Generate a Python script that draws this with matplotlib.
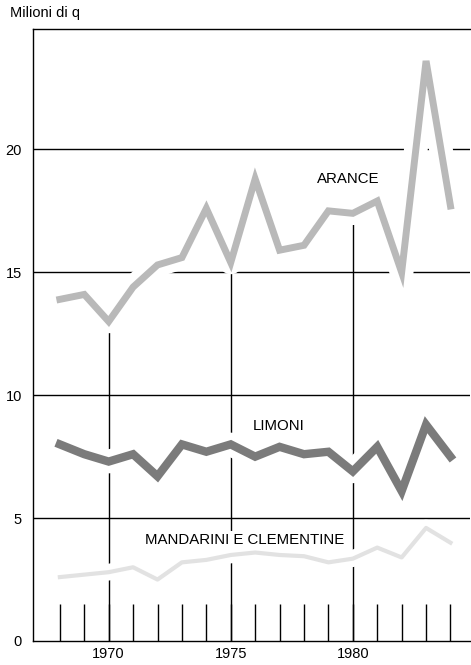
import matplotlib
matplotlib.use("Agg")
import matplotlib.pyplot as plt
import matplotlib.patheffects as pe

plt.rcParams['font.family'] = ['Liberation Sans', 'DejaVu Sans']

years = list(range(1968, 1985))
arance = [13.9, 14.1, 13.0, 14.4, 15.3, 15.6, 17.6, 15.4, 18.8, 15.9, 16.1,
          17.5, 17.4, 17.9, 15.0, 23.6, 17.7]
limoni = [8.0, 7.6, 7.3, 7.6, 6.7, 8.0, 7.7, 8.0, 7.5, 7.9, 7.6,
          7.7, 6.9, 7.9, 6.1, 8.8, 7.5]
mandarini = [2.6, 2.7, 2.8, 3.0, 2.5, 3.2, 3.3, 3.5, 3.6, 3.5, 3.45,
             3.2, 3.35, 3.8, 3.4, 4.6, 4.0]
label_years = [1970, 1975, 1980]
y_ticks = [0, 5, 10, 15, 20]

fig = plt.figure(figsize=(4.71, 6.65), dpi=100)
ax = fig.add_axes([33/471, 24/665, 437/471, 612/665])
ax.set_xlim(1966.9, 1984.8)
ax.set_ylim(0, 24.9)

# horizontal grid lines
for v in y_ticks[1:]:
    ax.axhline(v, color='black', lw=1.0, zorder=1)

# vertical lines at labelled years, up to the Arance value
for yr in label_years:
    ax.vlines(yr, 0, arance[years.index(yr)], color='black', lw=1.0, zorder=1)

def halo(w):
    return [pe.Stroke(linewidth=w, foreground='white', joinstyle='round',
                      capstyle='round'), pe.Normal()]

ax.plot(years, arance, color='#b9b9b9', lw=5.0, zorder=3,
        solid_joinstyle='miter', path_effects=halo(17))
ax.plot(years, limoni, color='#7b7b7b', lw=6.0, zorder=3,
        solid_joinstyle='miter', path_effects=halo(17))
ax.plot(years, mandarini, color='#e2e2e2', lw=3.0, zorder=3,
        path_effects=halo(12))

tkw = dict(fontsize=10.8, ha='center', va='center', zorder=5,
           bbox=dict(facecolor='white', edgecolor='none', pad=1.5))
ax.text(1979.8, 18.8, 'ARANCE', **tkw)
ax.text(1976.95, 8.75, 'LIMONI', **tkw)
ax.text(1975.55, 4.12, 'MANDARINI E CLEMENTINE', **tkw)

ax.set_xticks(years)
ax.set_xticklabels([str(y) if y in label_years else '' for y in years])
ax.tick_params(axis='x', direction='in', length=27, width=1.0, pad=4,
               labelsize=10.5, color='black')
ax.set_yticks(y_ticks)
ax.tick_params(axis='y', length=0, pad=8, labelsize=10.5)

for s in ['left', 'bottom', 'top']:
    ax.spines[s].set_linewidth(1.0)
    ax.spines[s].set_zorder(6)
ax.spines['right'].set_visible(False)

fig.text(10/471, 1 - 13/665, 'Milioni di q', fontsize=10.5, ha='left', va='center')

fig.savefig('out.png', dpi=100)
